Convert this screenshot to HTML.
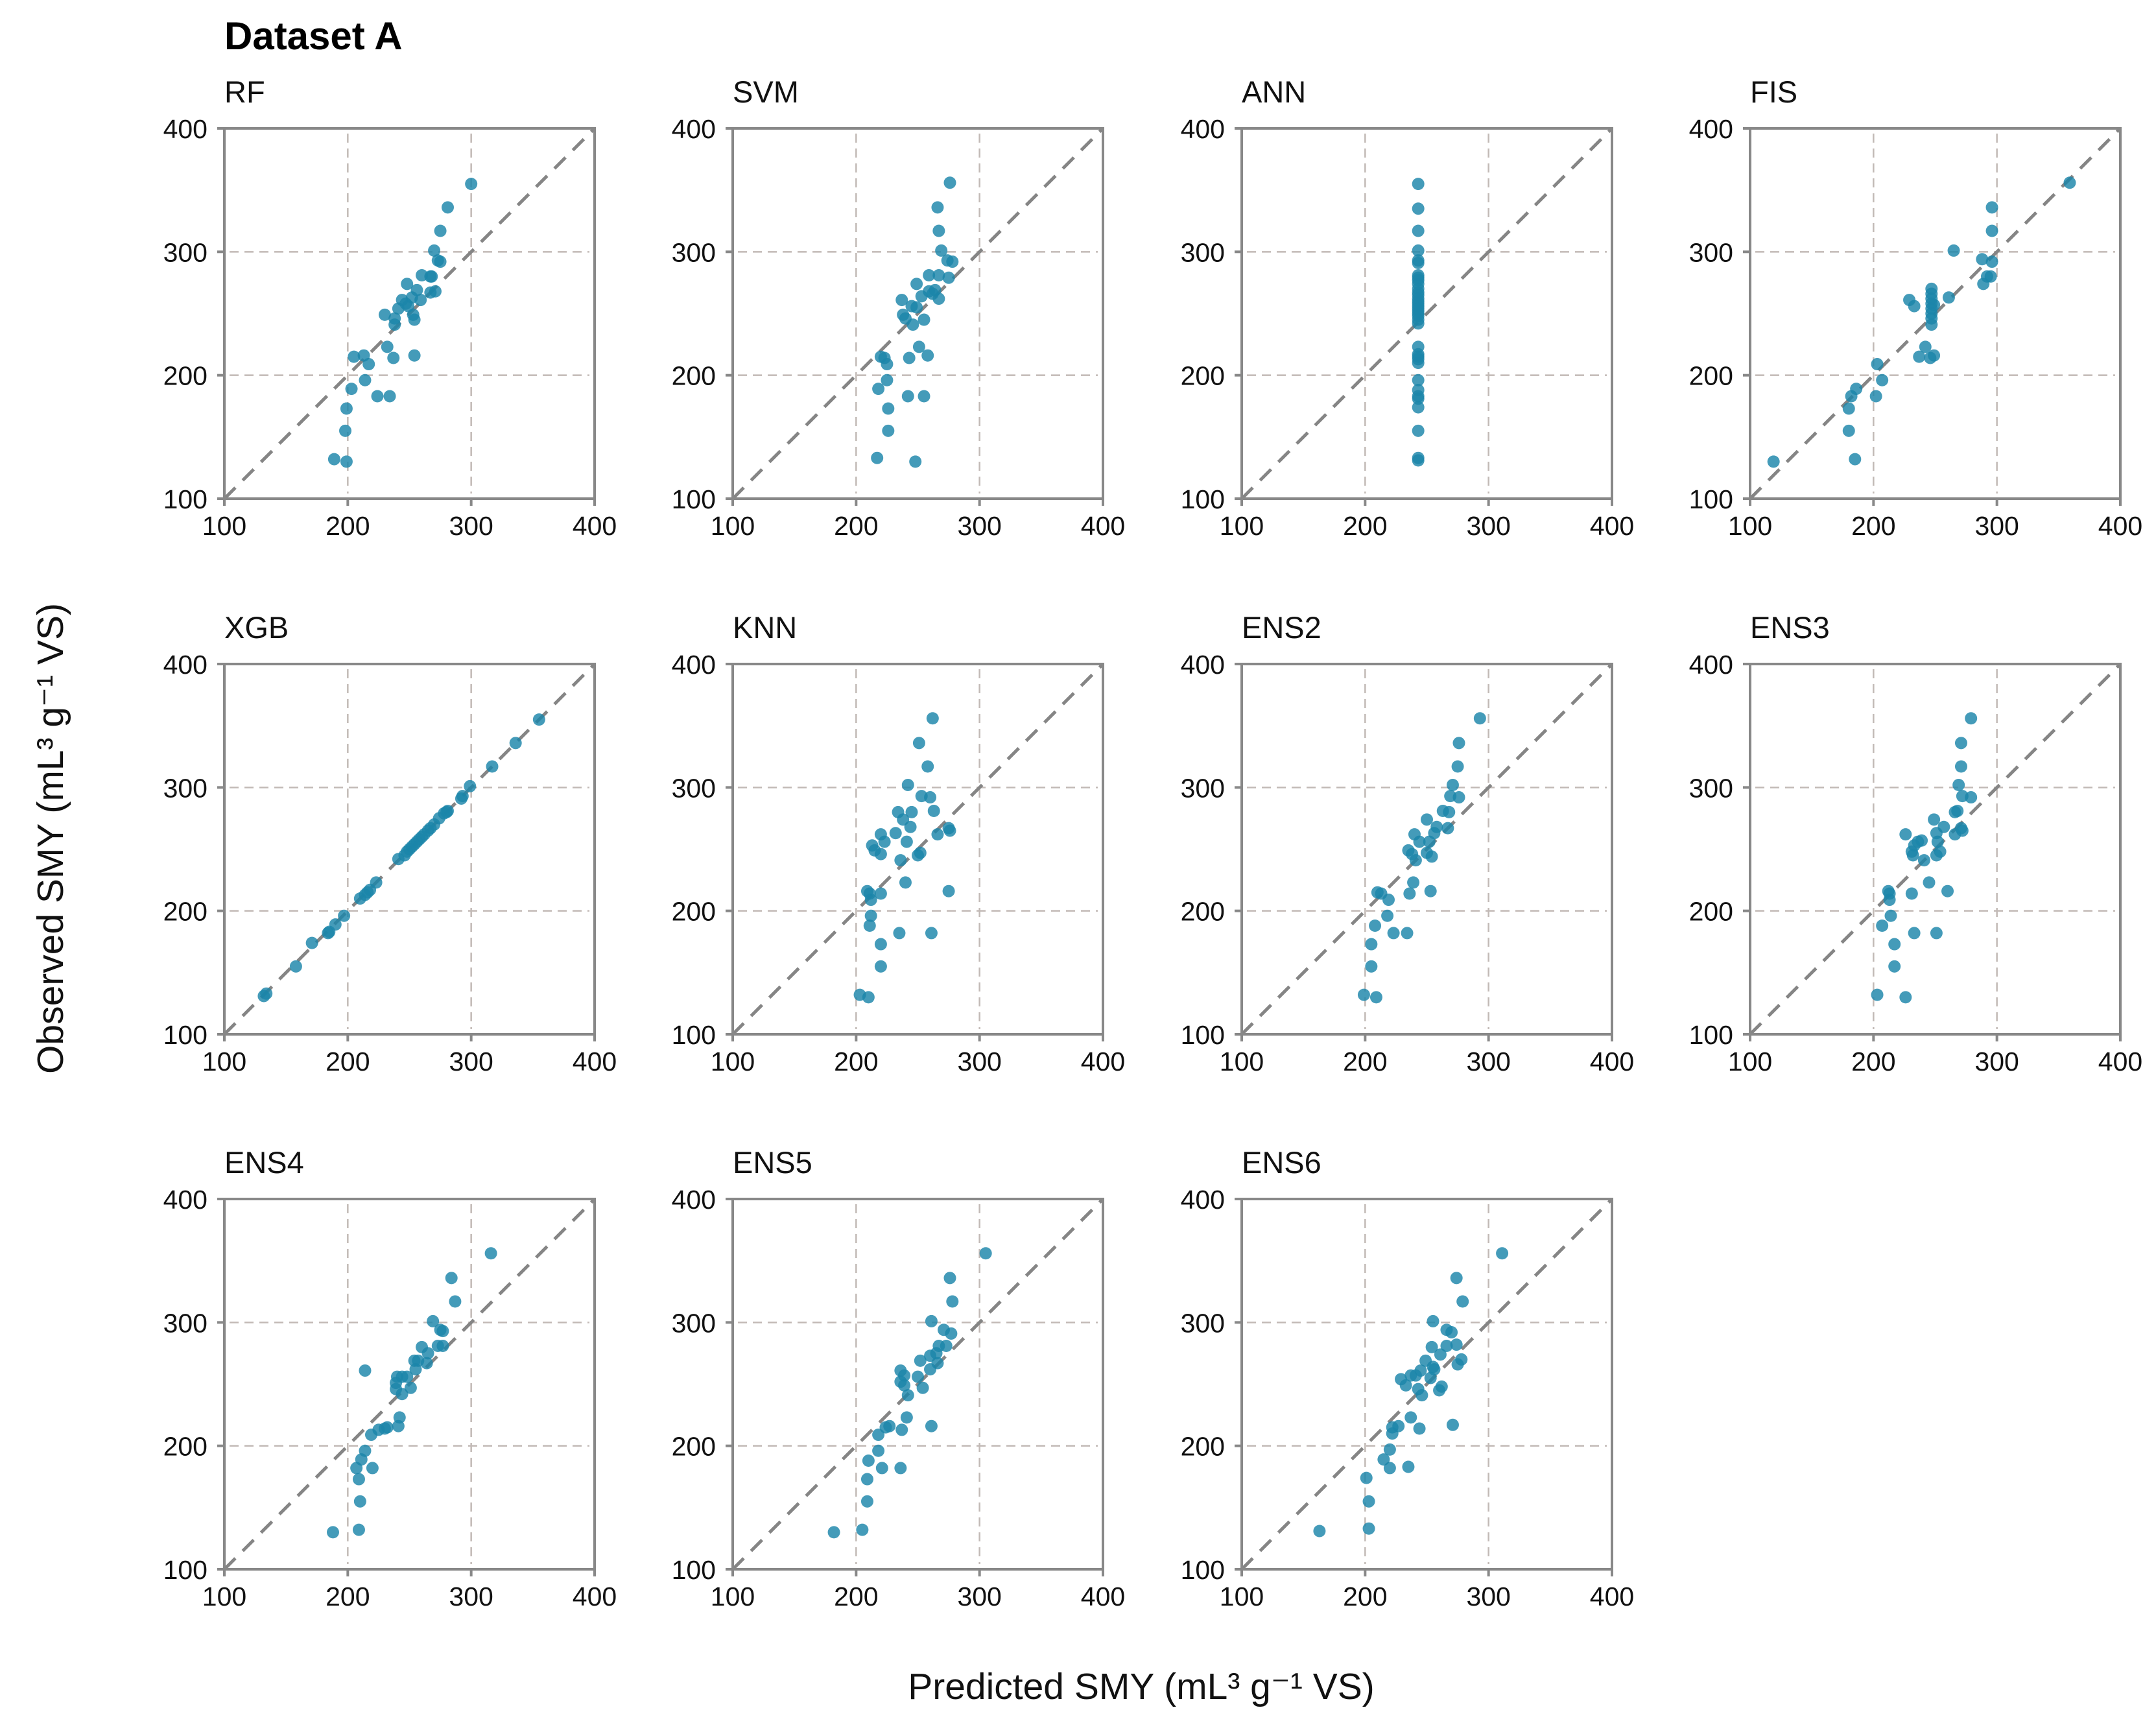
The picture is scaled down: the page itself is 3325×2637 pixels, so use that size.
<!DOCTYPE html>
<html><head><meta charset="utf-8">
<style>
html,body{margin:0;padding:0;background:#fff;}
svg{display:block;font-family:"Liberation Sans",Arial,sans-serif;}
</style></head>
<body>
<svg id="chart" width="3325" height="2637" viewBox="0 0 3325 2637" xmlns="http://www.w3.org/2000/svg">
<text x="346" y="76" font-size="60" font-weight="bold" fill="#000">Dataset A</text>
<text transform="translate(97,1293) rotate(-90)" text-anchor="middle" font-size="57" fill="#111">Observed SMY (mL³ g⁻¹ VS)</text>
<text x="1760" y="2620" text-anchor="middle" font-size="57" fill="#111">Predicted SMY (mL³ g⁻¹ VS)</text>
<g id="panels"></g>
</svg>
<script>
const panelNames = ["RF","SVM","ANN","FIS","XGB","KNN","ENS2","ENS3","ENS4","ENS5","ENS6"];
const ticks = [100,200,300,400];
const tickLabels = ["100","200","300","400"];
const gridVals = [200,300];
const dRF = [[300,355],[281,336],[275,317],[270,301],[273,293],[275,292],[260,281],[267,280],[268,280],[248,274],[256,269],[267,267],[271,268],[244,261],[252,263],[259,261],[241,254],[247,258],[249,256],[230,249],[238,246],[253,249],[254,245],[238,241],[232,223],[205,215],[213,216],[217,209],[237,214],[254,216],[214,196],[203,189],[224,183],[234,183],[199,173],[198,155],[189,132],[199,130]];
const dSVM = [[276,356],[266,336],[267,317],[269,301],[274,293],[278,292],[259,281],[267,281],[275,279],[249,274],[264,269],[259,268],[262,266],[267,262],[253,264],[237,261],[245,256],[249,255],[238,249],[240,246],[255,245],[246,241],[251,223],[258,216],[243,214],[220,215],[223,214],[225,209],[225,196],[218,189],[242,183],[255,183],[226,173],[226,155],[217,133],[248,130]];
const dANN = [[243,355],[243,335],[243,317],[243,301],[243,293],[243,291],[243,281],[243,279],[243,277],[243,274],[243,270],[243,267],[243,265],[243,262],[243,260],[243,258],[243,256],[243,254],[243,252],[243,250],[243,248],[243,245],[243,242],[243,223],[243,217],[243,215],[243,213],[243,210],[243,196],[243,188],[243,183],[243,181],[243,174],[243,155],[243,133],[243,131]];
const dFIS = [[359,356],[296,336],[296,317],[265,301],[288,294],[296,292],[292,280],[295,280],[289,274],[261,263],[229,261],[233,256],[247,270],[247,266],[247,262],[247,258],[247,254],[247,250],[247,246],[247,241],[249,257],[242,223],[237,215],[246,214],[249,216],[203,209],[207,196],[186,189],[182,183],[202,183],[180,173],[180,155],[185,132],[119,130]];
const dXGB = [[355,355],[336,336],[317,317],[299,301],[293,293],[292,291],[281,281],[280,280],[278,279],[274,275],[270,270],[267,267],[265,265],[262,262],[260,260],[258,258],[256,256],[254,254],[252,252],[250,250],[248,248],[246,245],[241,242],[223,223],[218,217],[216,215],[214,213],[210,210],[197,196],[190,189],[185,183],[184,182],[171,174],[158,155],[134,133],[132,131]];
const dKNN = [[262,356],[251,336],[258,317],[242,302],[253,293],[260,292],[234,280],[245,280],[263,281],[238,274],[244,268],[275,267],[276,265],[232,263],[266,262],[220,262],[223,256],[241,256],[213,253],[215,249],[220,246],[250,245],[252,247],[236,241],[240,223],[275,216],[209,216],[211,214],[220,214],[212,209],[212,196],[211,188],[235,182],[261,182],[220,173],[220,155],[203,132],[210,130]];
const dENS2 = [[293,356],[276,336],[275,317],[271,302],[269,293],[276,292],[263,281],[268,280],[250,274],[258,268],[267,267],[256,263],[240,262],[244,256],[252,256],[235,249],[238,246],[250,247],[254,244],[241,241],[239,223],[253,216],[210,215],[213,214],[236,214],[219,209],[218,196],[208,188],[223,182],[234,182],[205,173],[205,155],[199,132],[209,130]];
const dENS3 = [[279,356],[271,336],[271,317],[269,302],[272,293],[279,292],[266,280],[268,281],[249,274],[257,268],[271,267],[272,265],[251,263],[266,262],[226,262],[239,257],[233,253],[236,256],[231,248],[232,245],[252,256],[251,245],[254,248],[241,241],[245,223],[260,216],[212,216],[213,214],[231,214],[213,209],[214,196],[207,188],[233,182],[251,182],[217,173],[217,155],[203,132],[226,130]];
const dENS4 = [[316,356],[284,336],[287,317],[269,301],[275,294],[277,293],[260,280],[273,281],[277,281],[265,275],[254,269],[257,269],[264,267],[214,261],[255,262],[240,256],[244,256],[248,256],[239,251],[251,247],[239,246],[244,242],[242,223],[232,215],[230,214],[241,216],[225,213],[219,209],[214,196],[211,189],[207,182],[220,182],[209,173],[210,155],[209,132],[188,130]];
const dENS5 = [[305,356],[276,336],[278,317],[261,301],[271,294],[277,291],[267,281],[273,281],[265,275],[260,273],[252,269],[266,267],[260,262],[236,261],[250,256],[239,257],[236,252],[239,249],[254,247],[242,241],[241,223],[261,216],[224,215],[227,216],[237,213],[218,209],[218,196],[210,188],[221,182],[236,182],[209,173],[209,155],[205,132],[182,130]];
const dENS6 = [[311,356],[274,336],[279,317],[255,301],[266,294],[270,292],[254,280],[266,281],[274,282],[261,274],[249,269],[278,270],[275,266],[255,264],[256,262],[245,261],[237,257],[241,257],[229,254],[253,255],[233,249],[243,246],[262,248],[260,245],[246,241],[237,223],[271,217],[244,214],[227,216],[222,215],[222,210],[220,197],[215,189],[220,182],[235,183],[201,174],[203,155],[203,133],[163,131]];
const panelData = [dRF,dSVM,dANN,dFIS,dXGB,dKNN,dENS2,dENS3,dENS4,dENS5,dENS6];

const NS = "http://www.w3.org/2000/svg";
const colLeft = [346,1130,1915,2699];
const rowTop = [198,1024,1849];
const W = 571, H = 571;
const root = document.getElementById("panels");
function mk(tag, attrs, parent){
  const e = document.createElementNS(NS, tag);
  for (const k in attrs) e.setAttribute(k, attrs[k]);
  parent.appendChild(e);
  return e;
}
panelNames.forEach((name, i) => {
  const L = colLeft[i % 4], T = rowTop[Math.floor(i / 4)];
  const sx = v => L + (v - 100) / 300 * W;
  const sy = v => T + H - (v - 100) / 300 * H;
  const g = mk("g", {}, root);
  
  
  const title = mk("text", {x: L, y: T - 40, "font-size": 47, fill: "#111"}, g);
  title.textContent = name;
  
  
  gridVals.forEach(v => {
    const gx = mk("line", {x1: sx(v), x2: sx(v), y1: T + 8, y2: T + H - 8, stroke: "#c2bab6", "stroke-width": 2.5, "stroke-dasharray": "14 9"}, g);
    
    
    const gy = mk("line", {x1: L + 8, x2: L + W - 8, y1: sy(v), y2: sy(v), stroke: "#c2bab6", "stroke-width": 2.5, "stroke-dasharray": "14 9"}, g);
    
    
  });
  const diag = mk("line", {x1: sx(100), y1: sy(100), x2: sx(400), y2: sy(400), stroke: "#858585", "stroke-width": 5, "stroke-dasharray": "24 16"}, g);
  
  
  const frame = mk("rect", {x: L, y: T, width: W, height: H, fill: "none", stroke: "#888", "stroke-width": 4}, g);
  
  
  ticks.forEach((v, k) => {
    const tx = mk("line", {x1: sx(v), x2: sx(v), y1: T + H, y2: T + H + 11, stroke: "#888", "stroke-width": 4}, g);
    
    
    const ty = mk("line", {x1: L - 11, x2: L, y1: sy(v), y2: sy(v), stroke: "#888", "stroke-width": 4}, g);
    
    
    const lx = mk("text", {x: sx(v), y: T + H + 56, "text-anchor": "middle", "font-size": 41, fill: "#111"}, g);
    lx.textContent = tickLabels[k];
    
    
    const ly = mk("text", {x: L - 26, y: sy(v) + 15, "text-anchor": "end", "font-size": 41, fill: "#111"}, g);
    ly.textContent = tickLabels[k];
    
    
  });
  panelData[i].forEach(p => {
    const c = mk("circle", {cx: sx(p[0]), cy: sy(p[1]), r: 9.5, fill: "#1b85aa", "fill-opacity": 0.82}, g);
    
    
  });
});
</script>
</body></html>
